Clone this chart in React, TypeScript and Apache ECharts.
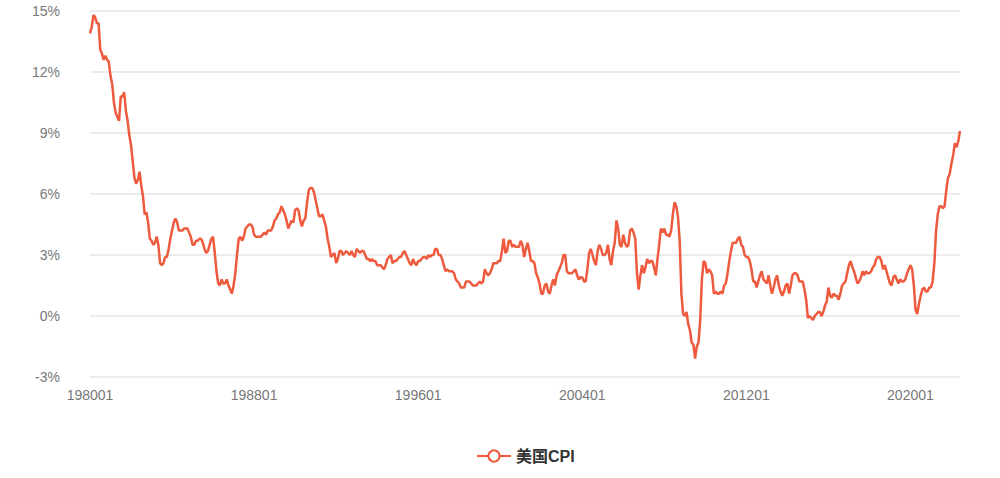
import React, { useEffect, useRef } from "react";
import * as echarts from "echarts";

const years: number[] = [];
for (let y = 1980; y <= 2022; y++) years.push(y);

const cpi1980s = [
  13.9, 14.2, 14.8, 14.7, 14.4, 14.4, 13.1, 12.9, 12.6, 12.8, 12.6, 12.5,
  11.8, 11.4, 10.5, 10.0, 9.8, 9.6, 10.8, 10.8, 11.0, 10.1, 9.6, 8.9,
  8.4, 7.6, 6.8, 6.5, 6.7, 7.1, 6.4, 5.9, 5.0, 5.1, 4.6, 3.8,
  3.7, 3.5, 3.6, 3.9, 3.5, 2.6, 2.5, 2.6, 2.9, 2.9, 3.3, 3.8,
  4.2, 4.6, 4.8, 4.6, 4.2, 4.2, 4.2, 4.3, 4.3, 4.3, 4.1, 3.9,
  3.5, 3.5, 3.7, 3.7, 3.8, 3.8, 3.6, 3.3, 3.1, 3.2, 3.5, 3.8,
  3.9, 3.1, 2.2, 1.6, 1.5, 1.8, 1.6, 1.6, 1.8, 1.5, 1.3, 1.1,
  1.5, 2.1, 3.0, 3.8, 3.9, 3.7, 3.9, 4.3, 4.4, 4.5, 4.5, 4.4,
  4.0, 3.9, 3.9, 3.9, 3.9, 4.0, 4.1, 4.0, 4.2, 4.2, 4.2, 4.4,
  4.7, 4.8, 5.0, 5.1, 5.4, 5.2, 5.0, 4.7, 4.3, 4.5, 4.7, 4.6,
];
const cpi1990s = [
  5.2, 5.3, 5.2, 4.7, 4.4, 4.7, 4.8, 5.6, 6.2, 6.3, 6.3, 6.1,
  5.7, 5.3, 4.9, 4.9, 5.0, 4.7, 4.4, 3.8, 3.4, 2.9, 3.0, 3.1,
  2.6, 2.8, 3.2, 3.2, 3.0, 3.1, 3.2, 3.1, 3.0, 3.2, 3.0, 2.9,
  3.3, 3.2, 3.1, 3.2, 3.2, 3.0, 2.8, 2.8, 2.7, 2.8, 2.7, 2.7,
  2.5, 2.5, 2.5, 2.4, 2.3, 2.5, 2.8, 2.9, 3.0, 2.6, 2.7, 2.7,
  2.8, 2.9, 2.9, 3.1, 3.2, 3.0, 2.8, 2.6, 2.5, 2.8, 2.6, 2.5,
  2.7, 2.7, 2.8, 2.9, 2.9, 2.8, 3.0, 2.9, 3.0, 3.0, 3.3, 3.3,
  3.0, 3.0, 2.8, 2.5, 2.2, 2.3, 2.2, 2.2, 2.2, 2.1, 1.8, 1.7,
  1.6, 1.4, 1.4, 1.4, 1.7, 1.7, 1.7, 1.6, 1.5, 1.5, 1.5, 1.6,
  1.7, 1.6, 1.7, 2.3, 2.1, 2.0, 2.1, 2.3, 2.6, 2.6, 2.6, 2.7,
];
const cpi2000s = [
  2.7, 3.2, 3.8, 3.1, 3.2, 3.7, 3.7, 3.4, 3.5, 3.4, 3.4, 3.4,
  3.7, 3.5, 2.9, 3.3, 3.6, 3.2, 2.7, 2.7, 2.6, 2.1, 1.9, 1.6,
  1.1, 1.1, 1.5, 1.6, 1.2, 1.1, 1.5, 1.8, 1.5, 2.0, 2.2, 2.4,
  2.6, 3.0, 3.0, 2.2, 2.1, 2.1, 2.1, 2.2, 2.3, 2.0, 1.8, 1.9,
  1.9, 1.7, 1.7, 2.3, 3.1, 3.3, 3.0, 2.7, 2.5, 3.2, 3.5, 3.3,
  3.0, 3.0, 3.1, 3.5, 2.8, 2.5, 3.2, 3.6, 4.7, 4.3, 3.5, 3.4,
  4.0, 3.6, 3.4, 3.5, 4.2, 4.3, 4.1, 3.8, 2.1, 1.3, 2.0, 2.5,
  2.1, 2.4, 2.8, 2.6, 2.7, 2.7, 2.4, 2.0, 2.8, 3.5, 4.3, 4.1,
  4.3, 4.0, 4.0, 3.9, 4.2, 5.0, 5.6, 5.4, 4.9, 3.7, 1.1, 0.1,
  0.0, 0.2, -0.4, -0.7, -1.3, -1.4, -2.1, -1.5, -1.3, -0.2, 1.8, 2.7,
];
const cpi2010s = [
  2.6, 2.1, 2.3, 2.2, 2.0, 1.1, 1.2, 1.1, 1.1, 1.2, 1.1, 1.5,
  1.6, 2.1, 2.7, 3.2, 3.6, 3.6, 3.6, 3.8, 3.9, 3.5, 3.4, 3.0,
  2.9, 2.9, 2.7, 2.3, 1.7, 1.7, 1.4, 1.7, 2.0, 2.2, 1.8, 1.7,
  1.6, 2.0, 1.5, 1.1, 1.4, 1.8, 2.0, 1.5, 1.2, 1.0, 1.2, 1.5,
  1.6, 1.1, 1.5, 2.0, 2.1, 2.1, 2.0, 1.7, 1.7, 1.7, 1.3, 0.8,
  -0.1, 0.0, -0.1, -0.2, 0.0, 0.1, 0.2, 0.2, 0.0, 0.2, 0.5, 0.7,
  1.4, 1.0, 0.9, 1.1, 1.0, 1.0, 0.8, 1.1, 1.5, 1.6, 1.7, 2.1,
  2.5, 2.7, 2.4, 2.2, 1.9, 1.6, 1.7, 1.9, 2.2, 2.0, 2.2, 2.1,
  2.1, 2.2, 2.4, 2.5, 2.8, 2.9, 2.9, 2.7, 2.3, 2.5, 2.2, 1.9,
  1.6, 1.5, 1.9, 2.0, 1.8, 1.6, 1.8, 1.7, 1.7, 1.8, 2.1, 2.3,
];
const cpi2020s = [
  2.5, 2.3, 1.5, 0.3, 0.1, 0.6, 1.0, 1.3, 1.4, 1.2, 1.2, 1.4,
  1.4, 1.7, 2.6, 4.2, 5.0, 5.4, 5.4, 5.3, 5.4, 6.2, 6.8, 7.0,
  7.5, 7.9, 8.5, 8.3, 8.6, 9.1,
];

const cpiValues = [...cpi1980s, ...cpi1990s, ...cpi2000s, ...cpi2010s, ...cpi2020s];

const months: string[] = [];
for (const y of years) {
  for (let m = 1; m <= 12; m++) {
    if (months.length < cpiValues.length) months.push(`${y}${m < 10 ? "0" + m : m}`);
  }
}

const yTicks = { min: -3, max: 15, interval: 3 };
const seriesName = "美国CPI";

export default function App() {
  const ref = useRef<HTMLDivElement>(null);
  useEffect(() => {
    if (!ref.current) return;
    const chart = echarts.init(ref.current, undefined, { renderer: "svg" });
    const font = "'Helvetica Neue', Helvetica, Arial, 'Noto Sans CJK SC', sans-serif";
    chart.setOption({
      animation: false,
      textStyle: { fontFamily: font },
      grid: { left: 90, right: 40, top: 11, bottom: 101, containLabel: false },
      legend: {
        data: [seriesName],
        left: 471,
        top: 443,
        itemWidth: 34,
        itemHeight: 14,
        itemGap: 8,
        textStyle: { fontSize: 16, fontWeight: "bold", color: "#333", fontFamily: font },
      },
      xAxis: {
        type: "category",
        data: months,
        boundaryGap: false,
        axisLine: { show: false },
        axisTick: { show: false },
        axisLabel: { interval: 95, color: "#777", fontSize: 14, margin: 11, fontFamily: font },
        splitLine: { show: false },
      },
      yAxis: {
        type: "value",
        min: yTicks.min,
        max: yTicks.max,
        interval: yTicks.interval,
        axisLine: { show: false },
        axisTick: { show: false },
        axisLabel: { formatter: "{value}%", color: "#777", fontSize: 14, margin: 30, fontFamily: font },
        splitLine: { lineStyle: { color: "#e6e6e6", width: 1.5 } },
      },
      series: [
        {
          name: seriesName,
          type: "line",
          data: cpiValues,
          symbol: "emptyCircle",
          symbolSize: 10,
          showSymbol: false,
          itemStyle: { color: "#ee5a3e", borderWidth: 2 },
          lineStyle: { color: "#ee5a3e", width: 2.5 },
        },
      ],
    });
    return () => chart.dispose();
  }, []);
  return (
    <div
      ref={ref}
      style={{ position: "absolute", left: 0, top: 0, width: 1000, height: 478 }}
    />
  );
}
